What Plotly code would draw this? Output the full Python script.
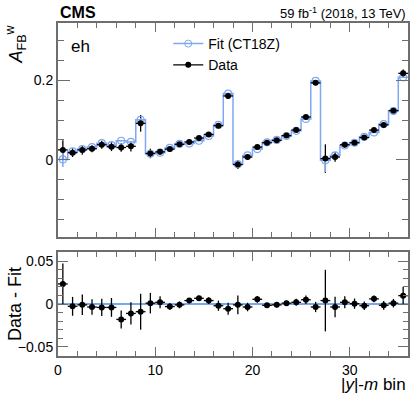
import plotly.graph_objects as go
from plotly.subplots import make_subplots

# A_FB^w per |y|-m bin (36 bins)
data_afb = [0.025, 0.018, 0.025, 0.028, 0.038, 0.033, 0.031, 0.034, 0.092, 0.016,
            0.020, 0.027, 0.039, 0.045, 0.055, 0.064, 0.086, 0.161, -0.012, 0.007,
            0.032, 0.043, 0.049, 0.061, 0.075, 0.108, 0.194, 0.003, 0.007, 0.038,
            0.043, 0.056, 0.075, 0.088, 0.124, 0.218]
fit_afb = [0.001, 0.021, 0.027, 0.032, 0.042, 0.037, 0.048, 0.045, 0.101, 0.015,
           0.018, 0.030, 0.040, 0.041, 0.048, 0.060, 0.088, 0.167, -0.011, 0.011,
           0.027, 0.044, 0.050, 0.060, 0.073, 0.103, 0.199, -0.001, 0.011, 0.036,
           0.043, 0.058, 0.069, 0.090, 0.123, 0.208]
fit_err_up = [0.019, 0.002, 0.002, 0.002, 0.002, 0.002, 0.002, 0.002, 0.004, 0.002,
              0.002, 0.002, 0.002, 0.002, 0.002, 0.002, 0.002, 0.002, 0.002, 0.002,
              0.002, 0.002, 0.002, 0.002, 0.002, 0.002, 0.002, 0.000, 0.002, 0.002,
              0.002, 0.002, 0.002, 0.002, 0.002, 0.002]
fit_err_down = [0.019, 0.002, 0.002, 0.002, 0.002, 0.002, 0.002, 0.002, 0.004, 0.002,
                0.002, 0.002, 0.002, 0.002, 0.002, 0.002, 0.002, 0.002, 0.002, 0.002,
                0.002, 0.002, 0.002, 0.002, 0.002, 0.002, 0.002, 0.030, 0.002, 0.002,
                0.002, 0.002, 0.002, 0.002, 0.002, 0.002]

# Data - Fit and data uncertainty
diff = [0.0235, -0.0027, -0.001, -0.0035, -0.004, -0.004, -0.018, -0.011, -0.009, 0.001,
        0.002, -0.003, -0.001, 0.004, 0.0067, 0.004, -0.002, -0.0055, -0.001, -0.0035,
        0.0055, -0.0016, -0.001, 0.001, 0.002, 0.005, -0.0035, 0.004, -0.0035, 0.002,
        0.0004, -0.002, 0.006, -0.0016, 0.001, 0.0098]
data_err = [0.024, 0.011, 0.012, 0.009, 0.010, 0.011, 0.0105, 0.013, 0.021, 0.012,
            0.007, 0.004, 0.004, 0.003, 0.003, 0.004, 0.006, 0.007, 0.011, 0.005,
            0.004, 0.003, 0.003, 0.003, 0.004, 0.005, 0.006, 0.036, 0.012, 0.007,
            0.006, 0.005, 0.004, 0.005, 0.005, 0.010]

nbins = len(data_afb)
centers = [i + 0.5 for i in range(nbins)]
edges = list(range(nbins + 1))

FIT_COL = "#7fa8f2"
ZERO_COL = "#4a8ae8"
FRAME = "#6e6e6e"
FONT = "Liberation Sans, Arial, sans-serif"

fig = make_subplots(rows=2, cols=1, shared_xaxes=False, vertical_spacing=0.0)

# data vertical errors (behind)
fig.add_trace(go.Scatter(x=centers, y=data_afb, mode="markers",
                         marker=dict(size=1, color="rgba(0,0,0,0)"),
                         error_y=dict(type="data", array=data_err, color="black",
                                      thickness=1.3, width=0),
                         showlegend=False, hoverinfo="skip"), row=1, col=1)
# fit step line
fig.add_trace(go.Scatter(x=edges, y=fit_afb + [fit_afb[-1]], mode="lines",
                         line=dict(color=FIT_COL, width=1.5, shape="hv"),
                         showlegend=False), row=1, col=1)
# fit markers
fig.add_trace(go.Scatter(x=centers, y=fit_afb, mode="markers",
                         marker=dict(symbol="circle-open", size=7, color=FIT_COL,
                                     line=dict(width=1.2, color=FIT_COL)),
                         error_y=dict(type="data", array=fit_err_up, arrayminus=fit_err_down,
                                      color=FIT_COL, thickness=1.5, width=0),
                         showlegend=False), row=1, col=1)
# data markers
fig.add_trace(go.Scatter(x=centers, y=data_afb, mode="markers",
                         marker=dict(size=6, color="black"),
                         error_x=dict(type="constant", value=0.5, color="black",
                                      thickness=1.3, width=0),
                         showlegend=False), row=1, col=1)
# legend entries
fig.add_trace(go.Scatter(x=[None], y=[None], mode="lines+markers", name="Fit (CT18Z)",
                         line=dict(color=FIT_COL, width=1.5),
                         marker=dict(symbol="circle-open", size=7, color=FIT_COL)),
              row=1, col=1)
fig.add_trace(go.Scatter(x=[None], y=[None], mode="lines+markers", name="Data",
                         line=dict(color="black", width=1.3),
                         marker=dict(size=6, color="black")), row=1, col=1)

# ratio panel
fig.add_trace(go.Scatter(x=[0, nbins], y=[0, 0], mode="lines",
                         line=dict(color=ZERO_COL, width=1.3), showlegend=False),
              row=2, col=1)
fig.add_trace(go.Scatter(x=centers, y=diff, mode="markers",
                         marker=dict(size=6, color="black"),
                         error_y=dict(type="data", array=data_err, color="black",
                                      thickness=1.3, width=0),
                         error_x=dict(type="constant", value=0.5, color="black",
                                      thickness=1.3, width=0),
                         showlegend=False), row=2, col=1)

axis_common = dict(showline=True, linecolor=FRAME, linewidth=2, mirror="allticks",
                   ticks="inside", tickcolor=FRAME, showgrid=False, zeroline=False,
                   tickfont=dict(size=14, color="black", family=FONT))

fig.update_xaxes(range=[0, nbins], dtick=10, ticklen=9,
                 minor=dict(dtick=2, ticklen=5, ticks="inside", tickcolor=FRAME),
                 **axis_common)
fig.update_xaxes(showticklabels=False, row=1, col=1)
fig.update_yaxes(range=[-0.195, 0.345], tickvals=[0, 0.2], ticktext=["0", "0.2"], ticklen=12,
                 minor=dict(dtick=0.05, ticklen=6, ticks="inside", tickcolor=FRAME),
                 domain=[0.357, 1.0], row=1, col=1, **axis_common)
fig.update_yaxes(range=[-0.0608, 0.0607], tickvals=[-0.05, 0, 0.05],
                 ticktext=["\u22120.05", "0", "0.05"], ticklen=10,
                 minor=dict(dtick=0.01, ticklen=5, ticks="inside", tickcolor=FRAME),
                 domain=[0.0, 0.312], row=2, col=1, **axis_common)

fig.update_layout(
    width=415, height=396,
    margin=dict(l=58, r=5, t=23, b=40),
    paper_bgcolor="white", plot_bgcolor="white",
    font=dict(family=FONT, color="black"),
    legend=dict(x=0.315, y=0.985, xanchor="left", yanchor="top",
                bgcolor="rgba(0,0,0,0)", font=dict(size=14), tracegroupgap=0),
    annotations=[
        dict(text="<b>CMS</b>", x=0, y=1.0, xref="paper", yref="paper",
             xanchor="left", yanchor="bottom", showarrow=False, font=dict(size=16)),
        dict(text="59 fb<sup>-1</sup> (2018, 13 TeV)", x=1, y=1.0, xref="paper", yref="paper",
             xanchor="right", yanchor="bottom", showarrow=False, font=dict(size=13)),
        dict(text="eh", x=0.03, y=0.93, xref="paper", yref="paper",
             xanchor="left", yanchor="middle", showarrow=False, font=dict(size=17)),
        dict(text="<i>A</i><sub>FB</sub><sup>w</sup>", x=-0.12, y=1.0, xref="paper",
             yref="paper", textangle=-90, xanchor="center", yanchor="top",
             showarrow=False, font=dict(size=18)),
        dict(text="Data - Fit", x=-0.123, y=0.156, xref="paper", yref="paper",
             textangle=-90, xanchor="center", yanchor="middle", showarrow=False,
             font=dict(size=18)),
        dict(text="|<i>y</i>|-<i>m</i> bin", x=1, y=-0.05, xref="paper", yref="paper",
             xanchor="right", yanchor="top", showarrow=False, font=dict(size=17)),
    ],
)

fig.write_html("out.html", config={"displayModeBar": False},
               post_script="document.body.style.margin='0';")
